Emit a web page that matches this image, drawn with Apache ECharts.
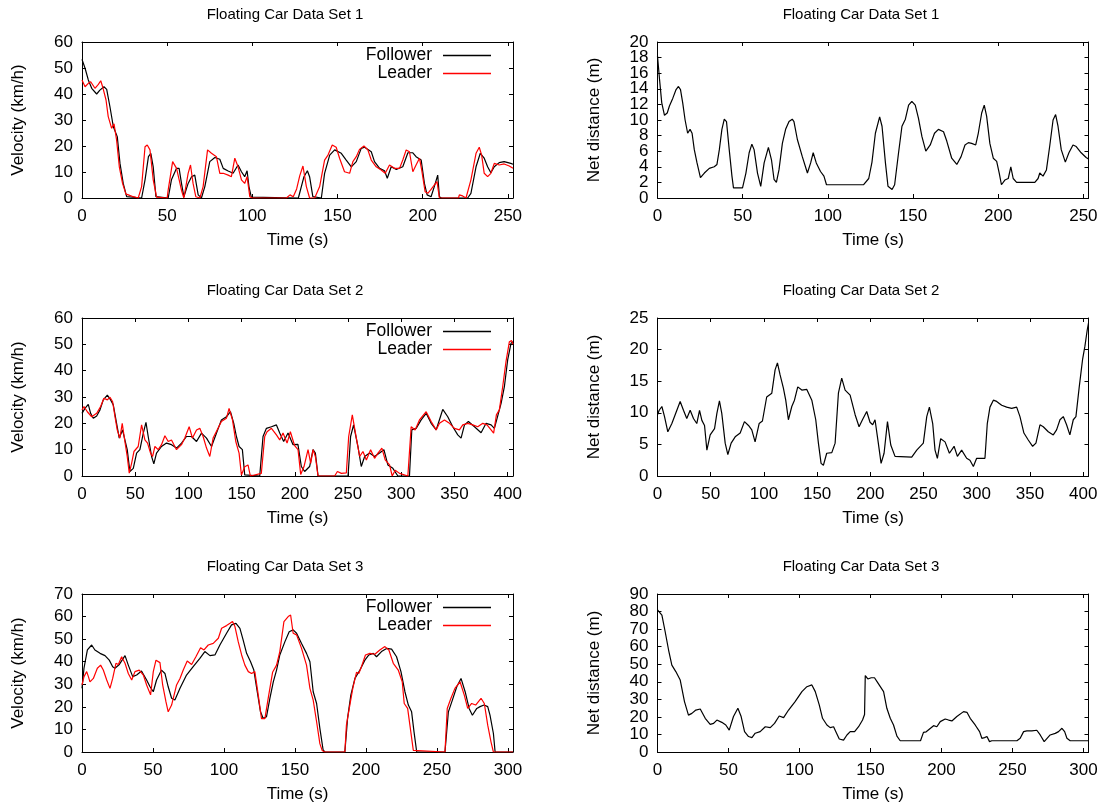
<!DOCTYPE html>
<html>
<head>
<meta charset="utf-8">
<script src="https://cdn.jsdelivr.net/npm/echarts@6/dist/echarts.min.js"></script>
<style>
  html, body { margin: 0; padding: 0; background: #fff; }
  #chart { width: 1109px; height: 812px; }
</style>
</head>
<body>
<div id="chart"></div>
<script>
// ---- Floating car data set 1 ----
const set1FollowerT = [0,1.8,3.7,5.7,8.6,10.5,12.9,14.5,16.4,18.4,20.7,22.3,24.2,26.2,35,37,39,40.4,41.8,43.4,50.6,52.5,55.5,57,58.4,59.8,62.3,64.3,66.2,68.2,70.1,72.1,75,78,80.9,82.9,85.8,88.7,91.6,93.6,95.5,96.9,98,99.4,100,127,127.8,130.3,132.3,133.6,135.5,140.5,142.4,145.4,148.3,152.2,155.1,158.1,161,163.9,165.9,169.8,171.7,174.7,177.6,179.2,181.5,184.5,188.3,191.3,194.2,196.1,199.1,201,202.6,204.9,206.8,208.8,209.8,211,226.4,228.3,231.3,233.8,236.1,238.1,240,242,244.9,247.8,251.7,253];
const set1FollowerV = [53.3,49.9,45.4,42.2,40,41.5,42.8,41.8,35.1,27.4,23.6,13.3,5.6,0.5,0,7,15.9,17.2,12,0.5,0,7,11.4,11.4,5.6,0.5,5.6,8.2,8.8,1.2,0,4.4,14,15.6,14.9,11.4,10.4,9.5,12.7,10.1,8.2,10.5,4.4,0.3,0,0,0.5,8.2,10.5,8.2,0.5,0,9.5,16.5,18.5,17.2,14.6,12,14,19.1,19.5,17.8,14,11.4,10.5,7.6,12,11,12,17.4,17.4,15.9,14.6,5.6,1.2,0.5,4.4,8.8,0.5,0,0,1.8,12,17.2,15.3,12,9.7,12,13.6,14,13.3,13];
const set1LeaderT = [0,1.8,3.7,5.1,7.6,9.6,11,12.1,14.1,15.4,17.4,18.8,20.3,21.9,23.8,25.8,27.2,30.1,33,35,37,38.3,39.9,41.8,43.8,50,50.6,53.2,55.5,56.6,58.4,59.8,62.3,63.7,65.2,66.8,69.2,71.1,73.7,76,78.9,80.9,82.9,85.8,87.7,89.7,91.6,93.6,95.5,96.9,98.5,100,120,122.1,124,126,127.8,129.7,131.7,133.6,136.6,139.5,142.4,144.4,146.9,149.2,151.2,154.1,157.1,159,161,162.9,165.5,167.8,169.8,172.7,175.6,178,180.5,183.4,186.4,188.3,190.3,192.2,194.2,196.1,198.1,199.4,201.4,203,204.9,206.8,208.4,209.8,221,221.5,223.4,225.4,228.3,231.3,233.2,234.6,236.1,238.1,240,242,244.9,247.8,250.8,253];
const set1LeaderV = [45.4,42.8,44.1,44.7,42.2,43.7,45.1,42.8,37.7,31.3,26.8,28.5,22.3,12,5.6,1.5,1.2,0.5,0,4.4,19.7,20.4,18.5,7,0.3,0,3.1,14,11.4,12,3,0,9.5,12.7,5.6,0.5,0,4.4,18.5,17.2,15.9,9.5,9.5,8.8,8.2,15.3,12,7,5.6,8.2,0.5,0,0,1.2,0.5,3.5,8.5,12.3,4.4,0,0,4.4,14.6,16.5,20.4,19.5,15.3,10.1,9.5,14,15.9,18.7,20,18.5,14.6,12,10.8,9.5,12.7,11.4,11.4,14.6,18.5,17.8,10.1,12.7,15.3,10.8,2.4,1.8,3.3,5,6.3,0,0,1.2,0.8,0,7,17.2,19.5,16.5,9.5,8.2,9.5,13.3,12.7,13.1,12.3,11.4];
const set1GapT = [0,1.2,2.5,4.1,5.7,7,9,10.9,12.3,13.5,14.8,16.2,17.7,19.1,20.3,21.6,23.2,25.2,27.5,30.4,33.3,34.9,36.3,37.8,39.2,40.5,42.1,43.7,44.6,49.9,51.9,53.8,55.4,56.7,58.7,60.6,62.6,65.1,66.9,68.4,69.8,71.3,73.3,75.2,77.2,79.1,80.1,82.1,85,88,89.9,91.4,93.2,95.7,97.7,99.2,121,124,125.9,127.9,130.4,131.8,133.8,135.3,137.7,139.2,141.5,143.5,145.5,147.4,149.3,151.3,153.2,155.2,157.5,160.1,162.6,164.9,167.9,169.8,172.7,175.7,178.2,180.5,182.5,184.4,186.8,188.3,190.3,191.8,193.2,195.1,197.1,199.1,200.6,201.9,203.9,205.9,207.4,208.8,210.8,221.5,223.4,224.4,226.3,228.3,230.2,232.2,233.7,235.1,237,239.4,241.5,243.9,245.8,248.7,251.6,253];
const set1GapD = [18.2,15.2,12.2,10.6,10.9,11.8,12.8,13.9,14.3,13.9,12.2,10,8.3,8.8,8.3,6.2,4.5,2.6,3.2,3.8,4,4.3,6.2,8.8,10.1,9.8,6.2,2.8,1.3,1.3,3.2,5.8,6.9,6.2,3.2,1.5,4.5,6.5,4.9,2.4,2,3.6,7,8.8,9.8,10.1,9.8,7.5,5.3,3.2,4.5,5.8,4.5,3.4,2.8,1.7,1.7,2.5,4.6,8.3,10.4,9.2,4.5,1.5,1.1,1.7,5.8,9.2,10.1,11.9,12.4,11.9,10.2,7.9,6,6.8,8.3,8.8,8.5,7.3,5.1,4.3,5.3,6.8,7.1,7,6.8,8.3,10.9,11.9,10.5,7,5.1,4.7,3.2,1.7,2.3,2.5,4,2.5,2,2,2.5,3.2,2.8,3.6,6.6,10,10.7,9.2,6.2,4.6,5.8,6.8,6.6,5.8,5.2,5];

// ---- Floating car data set 2 ----
const set2FollowerT = [0,2.8,5.9,8.1,10.6,13.8,16.9,20,23.8,26.9,29.4,32.5,35,38.1,40.3,42.5,45,48.2,51.3,54.4,57.6,60.1,62.2,65.4,67.5,70,74.7,79.4,84.1,88.8,93.5,98.2,102.9,107.6,112.3,117,121.7,126.4,131,135.7,139.5,142.6,145.1,147.6,150.7,152.9,154,167,170.1,173.3,178,182.7,185.8,189.5,193.6,198.3,202.9,206.1,209.2,213.9,217.1,219.3,221.8,250,252.4,255.2,259.3,262.4,265.6,270.2,274.9,279.6,283.7,287.4,292.1,296.8,307.7,309.9,314,318.7,323.4,328.1,332.8,336.8,339,343.7,348.4,353.1,356.2,359.4,363.1,368.8,375,379.7,384.4,387.5,391.3,393.8,396.9,400,403.1,405];
const set2FollowerV = [23.8,25.7,27.2,23.8,21.9,22.8,25.1,28.9,30.7,28.9,27,20,14.4,17.5,13.7,10,1.7,2.9,8.7,10,16.3,20.4,15,7.4,4.6,8.7,11.2,12.5,11.9,10.6,12.5,15,15,13.1,16.3,14.4,11.2,16.3,21.3,22.5,24.4,20,15,11.2,10,0.4,0,0,15,18.1,18.7,19.4,16.3,13.1,16.3,11.9,12,3.6,1.7,3.6,10,8.7,0,0,15,19.4,11.2,3.6,7.4,8.7,7.4,8.7,10,4.2,2.9,0,0,17.5,18.1,21.3,23.8,20,17.5,22.5,25.3,22.5,18.7,15.6,14.4,19.4,20.7,18.7,16.4,20,19.4,18.1,23.8,27.6,33.9,44.1,50.4,51];
const set2LeaderT = [0,1.9,5,9.1,13.8,17.5,20.6,23.8,26.3,28.8,31,33.1,35.6,37.8,40.3,42.5,44.4,46.6,48.8,52.8,56,59.1,61.6,64.4,66.3,68.5,71.6,74.7,77.9,81,84.1,88.8,93.5,96.6,100.7,103.8,107.6,110.7,113.8,117,120.1,123.2,127,131,135.7,138.2,141.4,144.5,147.6,149.8,152.9,156,158.2,168.5,171.7,173.9,178,182.7,185.8,188.9,192.7,195.8,199.8,203,205.5,208.6,212.4,214.9,217.1,219.3,221.8,237.4,240,243.7,248.4,250.6,254,257.8,260.9,264,267.2,271.2,274.9,278.1,281.8,284.9,289,291.5,294.3,298.4,306.2,309.3,313,317.1,323.4,328.1,332.8,335.9,340.6,345.3,350,354.6,357.8,362.5,367.2,371.9,376.6,380.6,384.4,386.8,389.4,392.2,395.3,398.4,401.6,403.7,405];
const set2LeaderV = [25.1,26.4,24.4,22.5,23.8,26.4,29.5,28.9,29.9,28.2,22.5,17.5,14.4,20,13.1,7.4,1.1,4.8,9.3,11.2,19.4,13.7,12.5,8.7,7.4,11.2,10,11.9,15.3,13.1,13.7,10,11.9,14.4,18.7,14.4,17.5,18.1,15,10.6,7.4,14.4,17.5,20.7,21.9,25.7,21.3,13.1,8.7,0.4,3.5,4.2,0,1,15,16.8,18.1,15.6,13.7,16.3,12.5,16.8,11.5,10,0.6,3.6,10,4.8,10,7.4,0,0,1.7,1,1.2,15,23.2,14.4,7.4,9.3,6.1,10,6.7,8.7,10.6,6.1,4.2,0,2.2,1,0,18.7,17.5,21.3,24.4,20.7,17.5,20,21.3,20,18.1,17.5,19.4,20,19.4,18.7,20,19.4,17.5,16.3,23.2,25.1,33.9,43.4,51,51.4,50];
const set2GapT = [0,1.6,4.1,6.6,9.7,13.5,16.6,21.3,24.4,27.5,30.7,33.8,36.9,39.5,41.7,44.2,46.4,49.5,53.6,55.8,58.2,60.4,63.6,66.1,69.2,73,77.7,81.7,85.5,88.6,91.7,95.5,98.6,102.6,107.4,110.5,112.7,115.2,118.3,120.5,123,126.2,128.7,131.8,135.6,140.3,145,148.7,151.2,153.7,155.9,159,163.8,166.9,170,173.1,176.3,181,185.7,189.4,192.6,196.6,199.7,202.2,204.4,207.5,210.1,212.9,216.1,219.2,223.2,238.9,243.6,249.8,253,255.5,258.6,260.8,263,266.1,270.2,274.3,278.7,281.8,285.8,290.5,293.6,296.8,299.9,307.7,309.9,312.4,315.6,318.7,323.4,328.1,332.8,337.5,340.6,344.3,348.4,352.5,355.6,359.4,362.5,367.2,371.9,375,378.2,381.3,384.4,387.5,390.7,393.2,396.3,399.4,401.6,403.8,405];
const set2GapD = [9.7,10.4,11,9.4,7,8.3,9.7,11.8,10.4,9.1,10.4,9.1,8.3,10.4,8.8,8,4.1,6.5,7.5,9.9,11.9,9.9,5.2,3.4,5.2,6.2,6.8,8.6,8,7.3,5.4,8.3,8.7,12.5,13.1,16.8,17.9,16,13.9,12,8.9,11,12,14.1,13.6,13.7,12,8.9,5.2,2,1.7,3.6,3.7,5.2,13.1,15.5,13.6,12.8,9.7,7.8,8.9,10.2,8.5,8.1,8.9,5.2,2,3.6,8.6,4.9,3.1,3,4.1,5.2,9.4,10.9,8.3,4.1,2.8,5.9,5.4,3.6,4.7,3.1,4.1,2.8,2.5,1.5,2.8,2.8,8.3,10.9,12,11.8,11.2,10.9,10.7,10.9,9.4,6.8,5.7,4.7,5.2,8.1,7.8,7,6.5,7.3,8.9,9.4,8.1,6.5,8.9,9.4,14.1,18.4,20.5,23.1,24.2];

// ---- Floating car data set 3 ----
const set3FollowerT = [0,1.4,3.8,6.8,9.1,12.7,16.2,19.2,21.6,23.2,26.3,30.3,32.6,35.7,38.5,41.9,45.5,47.9,50.2,52.5,56,58.4,60.7,63.1,65.4,69,73.6,78.3,83,86.5,90.1,93.6,97.1,101.8,105.3,108.4,111.2,113.5,115.9,118.7,121,123.4,125.7,127.6,129.9,132.3,134.7,137,139.3,142.9,145.9,148.7,151.1,154.6,158.1,160.5,162.8,165.2,167.5,169.8,171,185.1,187,189.3,192.2,195.7,199.2,202,205.1,207.4,210.9,214.5,218,221.5,224.6,227.4,229.8,232.1,233.8,235.7,255.6,258,260.8,263.9,266.9,269.8,272.6,274.9,278,280.3,283.1,285.7,287.3,289.7,290.9,303.5];
const set3FollowerV = [28.2,37.1,45.2,47.4,45.2,43.7,42.7,40.7,37.8,37.1,38.8,42.7,38.5,33.4,34.1,35.9,31.9,28.9,26.7,31.9,36.3,34.8,28.9,23.8,23,28.2,34.1,37.8,41.5,44.5,42.7,43,47.4,52.6,56.3,57,54.8,49.6,43.7,40,36.3,26.7,17.8,14.8,15.6,23.8,31.1,36.3,43,48.9,53.3,54.1,52.6,48.1,43.7,40,26.7,21.5,10.5,0.9,0,0,14.9,25.2,32.6,36.3,40.7,43,43.7,42.2,44.5,45.9,45.6,42.2,35.6,26.7,20.8,17.8,8.9,0,0,17.8,23,28.9,32.6,26.7,19.3,16.3,19.3,20.1,20.8,20.1,16.3,8.2,0,0];
const set3LeaderT = [0,1.4,3.3,4.5,5.6,8,10.8,13.1,15,17.4,19.7,21.6,23.9,25.6,27.9,30.3,32.6,35,37.3,40.3,43.2,45.5,48.3,50.2,52.1,54.9,56.8,59.1,60.7,63.1,66.6,69,71.3,74.1,77.2,80.2,83.5,85.9,88.9,92.4,96,98.3,101.8,104.2,106,107.7,110,112.4,114.7,117.1,119.4,121.7,124.1,126.4,128.8,131.1,134.2,137,139.3,142.2,145.2,146.9,148.7,151.1,154.6,158.1,160.5,162.8,165.2,167.5,169.1,171,185.1,186.2,188.6,190.9,193.3,194.9,196.8,199.6,202.7,206.2,209.7,213.3,216.1,219.2,222.7,225.5,226.9,229.3,230.9,233.3,234.5,255.6,257.2,259.8,262.6,266.2,269.2,271.6,274.4,277.2,281,283.3,285.7,288,289.7,303.5];
const set3LeaderV = [29.7,33.4,35.6,33.4,31.1,32.6,37.1,38.5,36.3,31.9,28.2,32.6,39.3,38.8,42.2,39.3,34.8,31.9,35.6,36.3,34.1,29.7,25.3,35.6,40.7,39.6,29.7,22.3,17.8,20.8,29.7,32.6,36.3,40.3,38.8,42.2,46.2,45.2,47.4,48.1,50.4,54.8,56,57,57.8,55.6,48.9,43,38.5,35.6,34.8,35.6,25.3,14.8,14.8,23.8,35.3,38.5,44.5,57.8,60,60.7,52.6,51.9,45.9,38.5,28.2,23,13.4,3.7,0.7,0,0,11.9,20.8,28.9,35.3,34.8,37.8,43,43.7,43.3,45.2,46.7,45.2,39.3,36.3,31.1,21.5,19.3,11.9,0.7,0,0,19.3,23.8,28.2,31.1,25.2,19.3,21.5,20.8,23.8,21.5,11.9,4.5,0,0];
const set3GapT = [0,3.1,5.4,7.8,10.1,12.9,16,19,21.8,24.2,27,30.1,33.6,37.1,39.5,41.8,45.3,48.1,50.5,53.5,56.6,58.9,61.3,64.1,66.5,68.8,72.3,75.9,79.4,82.4,85.7,88.8,92.3,96.9,101.7,105.2,108.7,111.1,113.9,116.2,119.3,121.6,124,125.6,128,131,133.4,135.7,138.8,141.6,144.4,145.8,146.3,148.1,150.5,152.8,155.4,159.2,161.5,163.9,166.2,168.6,170.9,185.2,187.3,189.2,194.4,196.7,199.1,202.6,205,207.3,210.8,215.5,217.9,220.2,223.7,226.8,228.4,230.3,232,233.8,235.4,253.1,255.4,257.8,260.1,263.6,267.1,269.5,272.3,276.5,280.1,282.4,284.8,286.7,288.3,290.6,303.5];
const set3GapD = [81,78,68.5,58.1,49.5,45.8,41,28.7,21,22,23.9,24.5,19.2,15.7,16.3,18.2,16.9,15.4,12.5,20.2,24.9,20.2,11.6,8.8,8.2,10.7,11.6,14.4,13.9,16.3,20.5,19.6,23.9,28.7,34.4,37.2,38.2,34.4,26.8,19.2,15.4,13.9,14.4,11.6,7.4,6.8,9.7,11.6,11.6,14.4,18.2,21.4,43.5,41.6,42.3,42.3,39.1,34.4,24.9,19.2,15.4,9,6.4,6.4,11.2,11.5,15,14.4,17.3,18.8,18.2,17.7,20.2,23,22.6,19.2,15.4,11.6,7.8,8.2,8.8,5.9,6.4,6.4,7.8,11.6,12,12,12.4,9.7,5.9,9.7,10.6,11.6,13.5,11.6,7.8,6.4,6.4];

// ---- layout helpers ----
const FONT = 'Liberation Sans, Arial, sans-serif';
const FS = 17;
const COLS = [82, 657.5];
const TITLE_X = [280, 856];
const PLOT_W = 431;
const ROWS = [[42, 156], [318, 158], [594, 158]];

const pairs = (t, v) => t.map((x, i) => [x, v[i]]);

const panels = [
  { row: 0, col: 0, title: 'Floating Car Data Set 1', yName: 'Velocity (km/h)', xMax: 253, yMax: 60, yStep: 10,
    lines: [['Follower', set1FollowerT, set1FollowerV, '#000000'], ['Leader', set1LeaderT, set1LeaderV, '#ff0000']] },
  { row: 0, col: 1, title: 'Floating Car Data Set 1', yName: 'Net distance (m)', xMax: 253, yMax: 20, yStep: 2, dense: true,
    lines: [['Net distance', set1GapT, set1GapD, '#000000']] },
  { row: 1, col: 0, title: 'Floating Car Data Set 2', yName: 'Velocity (km/h)', xMax: 405, yMax: 60, yStep: 10,
    lines: [['Follower', set2FollowerT, set2FollowerV, '#000000'], ['Leader', set2LeaderT, set2LeaderV, '#ff0000']] },
  { row: 1, col: 1, title: 'Floating Car Data Set 2', yName: 'Net distance (m)', xMax: 405, yMax: 25, yStep: 5,
    lines: [['Net distance', set2GapT, set2GapD, '#000000']] },
  { row: 2, col: 0, title: 'Floating Car Data Set 3', yName: 'Velocity (km/h)', xMax: 303.5, yMax: 70, yStep: 10,
    lines: [['Follower', set3FollowerT, set3FollowerV, '#000000'], ['Leader', set3LeaderT, set3LeaderV, '#ff0000']] },
  { row: 2, col: 1, title: 'Floating Car Data Set 3', yName: 'Net distance (m)', xMax: 303.5, yMax: 90, yStep: 10,
    lines: [['Net distance', set3GapT, set3GapD, '#000000']] }
];

const textBase = { color: '#000', fontFamily: FONT, fontSize: FS };
const tickStyle = { inside: true, length: 4, lineStyle: { color: '#000', width: 1 } };
const lineAxis = { show: true, onZero: false, lineStyle: { color: '#000', width: 1 } };

const grid = [], xAxis = [], yAxis = [], series = [], title = [], legend = [];
const extraY = [];

panels.forEach((p, i) => {
  const left = COLS[p.col];
  const [top, height] = ROWS[p.row];
  grid.push({ left: left, top: top, width: PLOT_W, height: height, containLabel: false });

  title.push({
    text: p.title, left: TITLE_X[p.col], top: top - 40, textAlign: 'center',
    textStyle: Object.assign({}, textBase, { fontSize: 15, fontWeight: 'normal' })
  });

  // bottom axis carries labels; the top axis repeats the ticks
  xAxis.push({
    type: 'value', gridIndex: i, position: 'bottom', min: 0, max: p.xMax, interval: 50,
    name: 'Time (s)', nameLocation: 'middle', nameGap: 34, nameTextStyle: textBase,
    axisLine: lineAxis, axisTick: tickStyle, splitLine: { show: false },
    axisLabel: Object.assign({}, textBase, {
      margin: 10, hideOverlap: false, showMinLabel: true,
      formatter: v => (v % 50 === 0 ? String(v) : '')
    })
  });
  xAxis.push({
    type: 'value', gridIndex: i, position: 'top', min: 0, max: p.xMax, interval: 50,
    axisLine: lineAxis, axisTick: tickStyle, splitLine: { show: false }, axisLabel: { show: false }
  });

  yAxis.push({
    type: 'value', gridIndex: i, position: 'left', min: 0, max: p.yMax, interval: p.yStep,
    name: p.yName, nameLocation: 'middle', nameRotate: 90, nameGap: 55,
    nameTextStyle: textBase,
    axisLine: lineAxis, axisTick: tickStyle, splitLine: { show: false },
    axisLabel: Object.assign({}, textBase, {
      margin: 9, hideOverlap: false,
      showMinLabel: !p.dense, showMaxLabel: !p.dense
    })
  });
  yAxis.push({
    type: 'value', gridIndex: i, position: 'right', min: 0, max: p.yMax, interval: p.yStep,
    axisLine: lineAxis, axisTick: tickStyle, splitLine: { show: false }, axisLabel: { show: false }
  });

  // tightly packed scale: the end labels come from a twin axis on the same side
  if (p.dense) {
    extraY.push({
      type: 'value', gridIndex: i, position: 'left', offset: 0, min: 0, max: p.yMax, interval: p.yStep,
      axisLine: { show: false }, axisTick: { show: false }, splitLine: { show: false },
      axisLabel: Object.assign({}, textBase, {
        margin: 9, hideOverlap: false, showMinLabel: true, showMaxLabel: true,
        formatter: v => (v === 0 || v === p.yMax ? String(v) : '')
      })
    });
  }

  p.lines.forEach(([name, t, v, color]) => {
    series.push({
      name: name, type: 'line', xAxisIndex: 2 * i, yAxisIndex: 2 * i,
      data: pairs(t, v), symbol: 'none', showSymbol: false, smooth: false,
      lineStyle: { color: color, width: 1.2 }, itemStyle: { color: color },
      animation: false, z: name === 'Leader' ? 3 : 2
    });
  });

  if (p.col === 0) {
    legend.push({
      data: ['Follower', 'Leader'], orient: 'vertical', align: 'right', icon: 'rect',
      right: 1109 - 491, top: top + 4.5, padding: 0,
      itemWidth: 48, itemHeight: 1.3, itemGap: 0, selectedMode: false,
      textStyle: Object.assign({}, textBase, { fontSize: 17.5, lineHeight: 17.3, padding: [0, 6, 0, 0] })
    });
  }
});

const chart = echarts.init(document.getElementById('chart'), null, { renderer: 'canvas' });
chart.setOption({
  backgroundColor: '#ffffff',
  animation: false,
  title, legend, grid, xAxis,
  yAxis: yAxis.concat(extraY),
  series
});
</script>
</body>
</html>
